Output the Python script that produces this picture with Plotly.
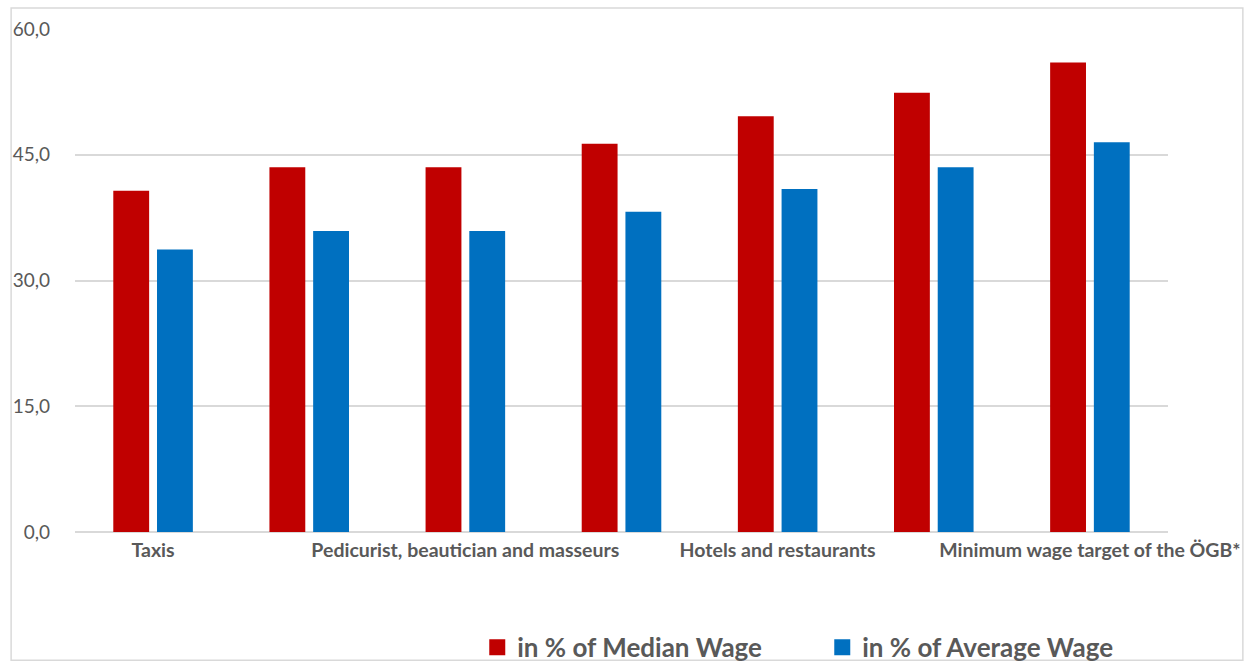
import plotly.graph_objects as go

categories = [
    "Taxis",
    "Category 2",
    "Pedicurist, beautician and masseurs",
    "Category 4",
    "Hotels and restaurants",
    "Category 6",
    "Minimum wage target of the ÖGB*",
]
median_wage = [40.7, 43.5, 43.5, 46.3, 49.6, 52.4, 56.0]
average_wage = [33.7, 35.9, 35.9, 38.2, 40.9, 43.5, 46.5]
series_names = ["in % of Median Wage", "in % of Average Wage"]
series_colors = ["#C00000", "#0070C0"]
shown_ticks = ["Taxis", "Pedicurist, beautician and masseurs",
               "Hotels and restaurants", "Minimum wage target of the ÖGB*"]
y_ticks = [0, 15, 30, 45, 60]

TXT = "#595959"
FONT = "Lato"

fig = go.Figure()
for vals, name, col in zip([median_wage, average_wage], series_names, series_colors):
    fig.add_trace(go.Bar(x=categories, y=vals, name=name, showlegend=False,
                         legendgroup=name,
                         marker=dict(color=col, line=dict(width=0))))
# legend entries with larger square glyphs
for name, col in zip(series_names, series_colors):
    fig.add_trace(go.Scatter(x=[None], y=[None], mode="markers", name=name,
                             legendgroup=name,
                             marker=dict(symbol="square", size=16, color=col)))

L, R, T, B = 75, 82, 29, 131
W, H = 1252, 666
pw, ph = W - L - R, H - T - B

def px(x):
    return (x - L) / pw

def py(y):
    return (H - B - y) / ph

fig.update_layout(
    width=W, height=H + 17,
    margin=dict(l=L, r=R, t=T, b=B + 17, pad=0),
    paper_bgcolor="white", plot_bgcolor="white",
    separators=",.",
    barmode="group", bargap=0.44, bargroupgap=0.18,
    font=dict(family=FONT, color=TXT),
    showlegend=True,
    legend=dict(
        orientation="h", x=px(478), xanchor="left", y=py(651), yanchor="middle",
        font=dict(family=FONT, size=26, color=TXT, weight="bold"),
        entrywidth=300, bgcolor="rgba(0,0,0,0)", itemsizing="trace",
    ),
    xaxis=dict(
        tickmode="array", tickvals=shown_ticks, ticktext=shown_ticks,
        tickfont=dict(family=FONT, size=19.5, color=TXT, weight="bold"),
        showgrid=False, showline=False, ticks="", zeroline=False,
        ticklabelstandoff=4,
    ),
    yaxis=dict(
        range=[0, 60], tickvals=y_ticks, tickformat=".1f",
        tickfont=dict(family=FONT, size=19, color=TXT),
        showgrid=True, gridcolor="#d9d9d9", gridwidth=1.5,
        zeroline=True, zerolinecolor="#d9d9d9", zerolinewidth=1.5,
        showline=False, ticks="", ticklabelstandoff=24,
    ),
    shapes=[dict(type="rect", xref="paper", yref="paper",
                 x0=px(11), x1=px(1245), y0=py(664), y1=py(8),
                 line=dict(color="#d9d9d9", width=1.5), layer="below")],
)

fig.write_html("out.html")
